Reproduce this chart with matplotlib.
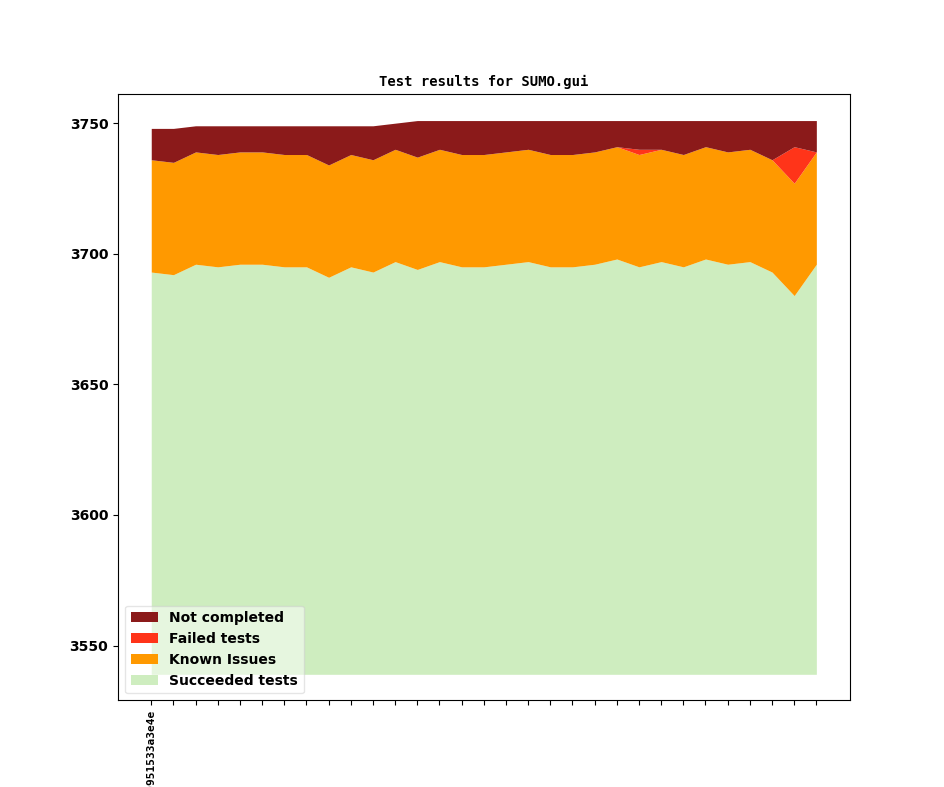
import matplotlib
matplotlib.use('Agg')
import matplotlib.pyplot as plt
import numpy as np

# test counts per revision
revisions = ['v1_9_2+0951533a3e4e'] + [''] * 30
succeeded = [3693, 3692, 3696, 3695, 3696, 3696, 3695, 3695, 3691, 3695, 3693,
             3697, 3694, 3697, 3695, 3695, 3696, 3697, 3695, 3695, 3696, 3698,
             3695, 3697, 3695, 3698, 3696, 3697, 3693, 3684, 3696]
known_issues = [43] * 31
failed = [0] * 22 + [2] + [0] * 6 + [14] + [0]
not_completed = [12, 13, 10, 11, 10, 10, 11, 11, 15, 11, 13, 10, 14, 11, 13, 13,
                 12, 11, 13, 13, 12, 10, 11, 11, 13, 10, 12, 11, 15, 10, 12]
base = 3539

labels = ['Succeeded tests', 'Known Issues', 'Failed tests', 'Not completed']
colors = ['#ceedbf', '#ff9900', '#ff3419', '#8b1a1a']

x = np.arange(len(revisions))
series = [succeeded, known_issues, failed, not_completed]

fig, ax = plt.subplots(figsize=(9.44, 7.87), dpi=100)
lower = np.full(len(x), base, dtype=float)
upper = np.array(succeeded, dtype=float)
handles = []
for n, s in enumerate(series):
    if n > 0:
        upper = lower + np.array(s, dtype=float)
    h = ax.fill_between(x, lower, upper, color=colors[n], label=labels[n], lw=0)
    handles.append(h)
    lower = upper

total = upper
ax.set_ylim(base - 10, total.max() + 10)
ax.set_xticks(x)
ax.set_xticklabels(revisions, rotation=90, family='monospace', fontsize=8,
                   fontweight='bold')
for t in ax.get_yticklabels():
    t.set_fontweight('bold')
ax.set_title('Test results for SUMO.gui', family='monospace', fontweight='bold',
             fontsize=10)
ax.legend(handles[::-1], labels[::-1], loc='lower left', framealpha=0.5,
          prop={'weight': 'bold', 'size': 10})

plt.savefig('out.png', dpi=100)
